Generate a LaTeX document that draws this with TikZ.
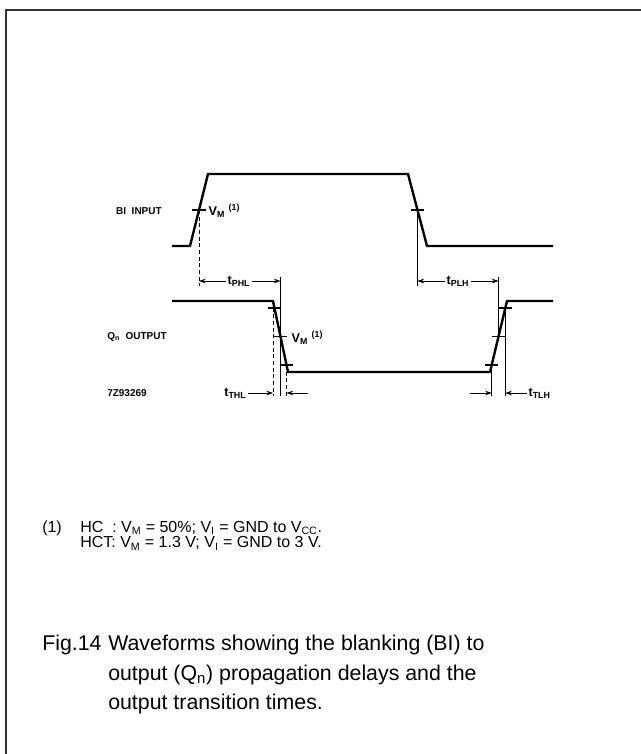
\documentclass[tikz,border=0pt]{standalone}
\usepackage{fontspec}
\setmainfont{Liberation Sans}
\usetikzlibrary{arrows.meta,positioning}

\begin{document}
\begin{tikzpicture}[x=0.75pt,y=-0.75pt,
        wave/.style={line width=1.8pt, line join=miter},
        refline/.style={line width=0.6pt},
        dashref/.style={line width=0.6pt, densely dashed},
        tickmark/.style={line width=0.8pt},
        tarrow/.style={line width=0.6pt, -{Stealth[length=5pt,width=3.5pt]}},
        siglabel/.style={font=\bfseries\fontsize{7.5}{9}\selectfont, inner sep=0pt},
        tlabel/.style={font=\bfseries\fontsize{9.5}{11}\selectfont, inner sep=1pt},
        note/.style={font=\fontsize{12}{11.6}\selectfont, inner sep=0pt, align=left},
        capt/.style={font=\fontsize{16}{22.2}\selectfont, inner sep=0pt, align=left}]

        \useasboundingbox (0,0) rectangle (641,754);
        \draw[line width=1.5pt, black!80] (6,754) -- (6,9.5) -- (641,9.5);

        % rows
        \coordinate (rowA) at (0,281);
        \coordinate (endA) at (0,286);
        \coordinate (topQ) at (0,277);
        \coordinate (rowB) at (0,393);
        \coordinate (endB) at (0,396);

        % BI input
        \coordinate (b0) at (172,246);
        \coordinate (b1) at (190,246);
        \coordinate (b2) at (208,174);
        \coordinate (b3) at (408,174);
        \coordinate (b4) at (427,246);
        \coordinate (b5) at (553,246);
        \draw[wave] (b0) -- (b1) -- (b2) -- (b3) -- (b4) -- (b5);
        \coordinate (bm1) at (199,210);
        \coordinate (bm2) at (417.5,210);

        % Qn output
        \coordinate (q0) at (172,301);
        \coordinate (q1) at (273,301);
        \coordinate (q2) at (288,372);
        \coordinate (q3) at (490,372);
        \coordinate (q4) at (507,301);
        \coordinate (q5) at (553,301);
        \draw[wave] (q0) -- (q1) -- (q2) -- (q3) -- (q4) -- (q5);
        \coordinate (qf1) at (274.5,308);
        \coordinate (qf2) at (280.5,336.5);
        \coordinate (qf3) at (286.5,365);
        \coordinate (qr1) at (491.7,365);
        \coordinate (qr2) at (498.5,336.5);
        \coordinate (qr3) at (505.3,308);

        \foreach \p in {bm1,bm2,qf1,qf2,qf3,qr1,qr2,qr3}
            \draw[tickmark] ([xshift=-5pt]\p) -- ([xshift=5pt]\p);

        \draw[dashref] (bm1) -- (bm1 |- endA);
        \draw[refline] (bm2) -- (bm2 |- endA);
        \draw[refline] (qf2 |- topQ) -- (qf2 |- endB);
        \draw[dashref] (q1) -- (q1 |- endB);
        \draw[dashref] (qf3) -- (qf3 |- endB);
        \draw[refline] (qr2 |- topQ) -- (qr2);
        \draw[refline] (qr1) -- (qr1 |- endB);
        \draw[refline] (qr3) -- (qr3 |- endB);

        % labels
        \node[siglabel, anchor=east] (bi) at (162,211) {BI\ \ INPUT};
        \node[siglabel, anchor=west] (qn) at (107,337) {Q\textsubscript{n}\ \ OUTPUT};
        \node[siglabel, anchor=west] (code) at (107,393) {7Z93269};
        \node[tlabel, anchor=west] (vmbi) at (207,211) {V\textsubscript{M} \textsuperscript{(1)}};
        \node[tlabel, anchor=west] (vmqn) at (290,338) {V\textsubscript{M} \textsuperscript{(1)}};

        % delays
        \node[tlabel] (tphl) at (239,281) {t\textsubscript{PHL}};
        \draw[tarrow] (tphl.west) -- (bm1 |- rowA);
        \draw[tarrow] (tphl.east) -- (qf2 |- rowA);
        \node[tlabel] (tplh) at (458,281) {t\textsubscript{PLH}};
        \draw[tarrow] (tplh.west) -- (bm2 |- rowA);
        \draw[tarrow] (tplh.east) -- (qr2 |- rowA);

        % transitions
        \node[tlabel, anchor=east] (tthl) at (248,393) {t\textsubscript{THL}};
        \draw[tarrow] (tthl.east) -- (q1 |- rowB);
        \coordinate (thlC) at (308,393);
        \draw[tarrow] (thlC) -- (qf3 |- rowB);
        \coordinate (tlhC) at (470,393);
        \draw[tarrow] (tlhC) -- (qr1 |- rowB);
        \node[tlabel, anchor=west] (ttlh) at (527,393) {t\textsubscript{TLH}};
        \draw[tarrow] (ttlh.west) -- (qr3 |- rowB);

        % note and caption
        \node[note, anchor=north west] (notemark) at (42,521) {(1)};
        \node[note, anchor=north west] (notetext) at (80,521) {HC\ \ : V\textsubscript{M} = 50\%; V\textsubscript{I} = GND to V\textsubscript{CC}.\\HCT: V\textsubscript{M} = 1.3 V; V\textsubscript{I} = GND to 3 V.};
        \node[capt, anchor=north west] (fig) at (42,635) {Fig.14};
        \node[capt, anchor=north west] (caption) at (108,635) {Waveforms showing the blanking (BI) to\\output (Q\textsubscript{n}) propagation delays and the\\output transition times.};

\end{tikzpicture}
\end{document}
